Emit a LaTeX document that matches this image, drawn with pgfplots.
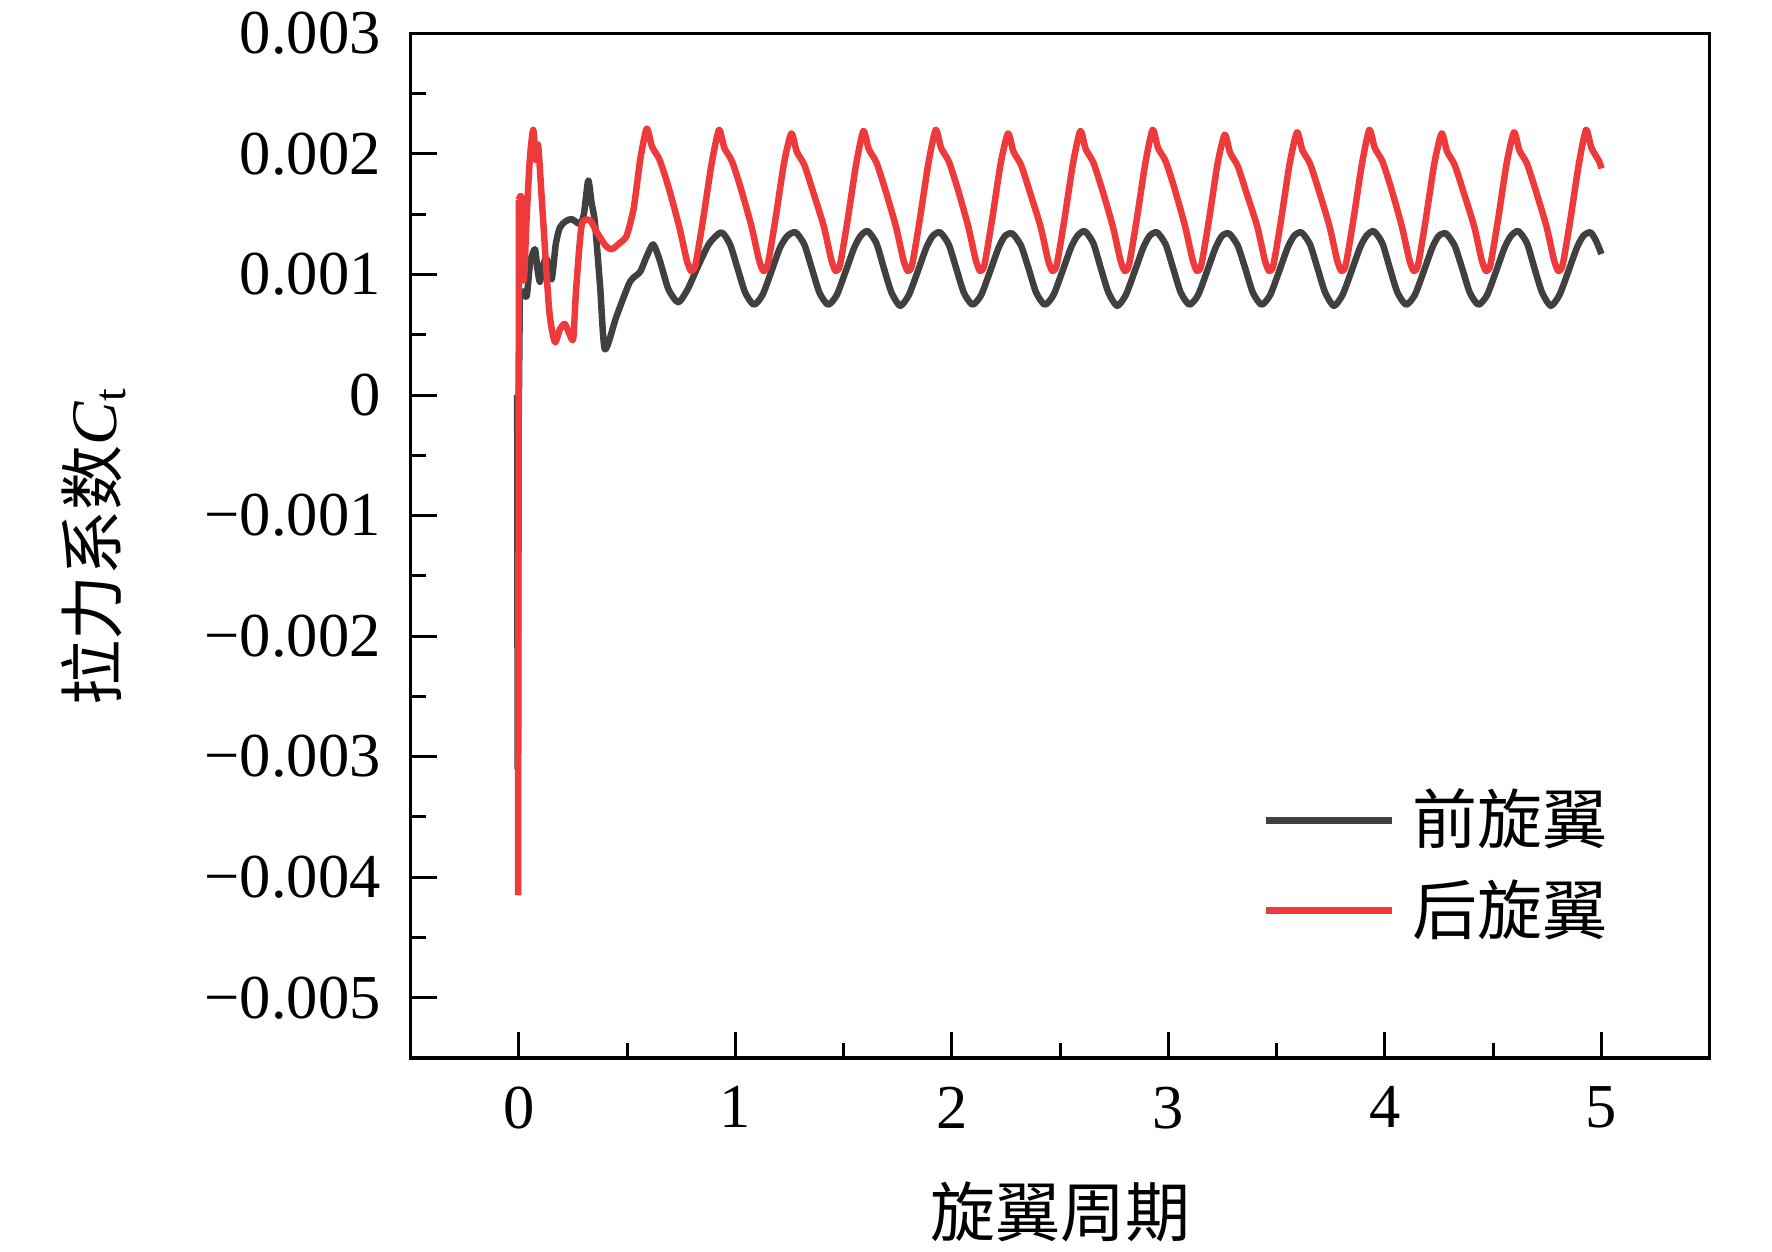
\documentclass[border=0pt]{standalone}
\usepackage{fontspec}
\setmainfont{Liberation Serif}
\newfontfamily\cjk{Noto Sans CJK SC}
\usepackage{pgfplots}
\usepackage{pgfplotstable}
\pgfplotsset{compat=1.18}
\usetikzlibrary{calc}
\definecolor{cblack}{RGB}{64,64,64}
\definecolor{cred}{RGB}{238,58,58}

% y values in units of 0.001
\pgfplotstableread{
x y
-0.008 0.00
-0.006 -3.10
-0.002 -0.40
0.004 0.80
}\frontspike

\pgfplotstableread{
x y
0.004 0.80
0.020 0.86
0.036 0.82
0.052 1.10
0.074 1.21
0.085 1.05
0.097 0.94
0.112 1.08
0.128 1.13
0.151 0.96
0.170 1.25
0.189 1.39
0.215 1.44
0.243 1.46
0.282 1.42
0.300 1.50
0.320 1.78
0.335 1.60
0.351 1.43
0.375 0.90
0.397 0.38
0.450 0.65
0.513 0.94
0.559 1.02
0.590 1.15
0.620 1.25
0.650 1.12
0.690 0.88
0.736 0.77
0.780 0.88
0.830 1.08
0.880 1.26
0.935 1.35
0.975 1.25
1.010 1.05
1.045 0.85
1.085 0.75
1.125 0.83
1.165 1.02
1.205 1.22
1.240 1.32
1.278 1.35
1.318 1.25
1.353 1.05
1.388 0.85
1.428 0.75
1.468 0.83
1.508 1.02
1.548 1.22
1.578 1.32
1.611 1.36
1.651 1.26
1.686 1.05
1.721 0.85
1.761 0.74
1.801 0.83
1.841 1.02
1.881 1.22
1.911 1.32
1.945 1.35
1.985 1.25
2.020 1.05
2.055 0.85
2.095 0.75
2.135 0.83
2.175 1.02
2.215 1.22
2.245 1.32
2.279 1.34
2.319 1.24
2.354 1.05
2.389 0.85
2.429 0.75
2.469 0.83
2.509 1.02
2.549 1.22
2.579 1.32
2.613 1.36
2.653 1.26
2.688 1.05
2.723 0.85
2.763 0.74
2.803 0.83
2.843 1.02
2.883 1.22
2.913 1.32
2.947 1.35
2.987 1.25
3.022 1.05
3.057 0.85
3.097 0.75
3.137 0.83
3.177 1.02
3.217 1.22
3.247 1.32
3.280 1.34
3.320 1.24
3.355 1.05
3.390 0.85
3.430 0.75
3.470 0.83
3.510 1.02
3.550 1.22
3.580 1.32
3.614 1.35
3.654 1.25
3.689 1.05
3.724 0.85
3.764 0.74
3.804 0.83
3.844 1.02
3.884 1.22
3.914 1.32
3.948 1.36
3.988 1.26
4.023 1.05
4.058 0.85
4.098 0.75
4.138 0.83
4.178 1.02
4.218 1.22
4.248 1.32
4.282 1.34
4.322 1.24
4.357 1.05
4.392 0.85
4.432 0.75
4.472 0.83
4.512 1.02
4.552 1.22
4.582 1.32
4.616 1.36
4.656 1.26
4.691 1.05
4.726 0.85
4.766 0.74
4.806 0.83
4.846 1.02
4.886 1.22
4.916 1.32
4.949 1.35
4.975 1.28
5.000 1.17
}\frontrotor

\pgfplotstableread{
x y
-0.004 -4.15
0.000 1.62
}\rearspike

\pgfplotstableread{
x y
0.000 1.62
0.012 1.62
0.022 0.95
0.035 1.45
0.050 1.95
0.066 2.20
0.078 1.95
0.089 2.07
0.110 1.50
0.140 0.70
0.166 0.44
0.190 0.55
0.212 0.59
0.235 0.50
0.251 0.47
0.265 0.90
0.290 1.41
0.328 1.45
0.360 1.35
0.400 1.24
0.428 1.21
0.465 1.26
0.497 1.32
0.530 1.55
0.560 1.95
0.590 2.21
0.615 2.06
0.650 1.95
0.690 1.73
0.740 1.40
0.775 1.12
0.795 1.03
0.815 1.08
0.850 1.45
0.890 1.92
0.924 2.20
0.949 2.05
0.984 1.94
1.024 1.72
1.074 1.40
1.109 1.12
1.129 1.03
1.149 1.08
1.184 1.45
1.224 1.92
1.258 2.17
1.283 2.02
1.318 1.91
1.358 1.69
1.408 1.40
1.443 1.12
1.463 1.03
1.483 1.08
1.518 1.45
1.558 1.92
1.591 2.19
1.616 2.04
1.651 1.93
1.691 1.71
1.741 1.40
1.776 1.12
1.796 1.03
1.816 1.08
1.851 1.45
1.891 1.92
1.925 2.20
1.950 2.05
1.985 1.94
2.025 1.72
2.075 1.40
2.110 1.12
2.130 1.03
2.150 1.08
2.185 1.45
2.225 1.92
2.259 2.17
2.284 2.02
2.319 1.91
2.359 1.69
2.409 1.40
2.444 1.12
2.464 1.03
2.484 1.08
2.519 1.45
2.559 1.92
2.593 2.19
2.618 2.04
2.653 1.93
2.693 1.71
2.743 1.40
2.778 1.12
2.798 1.03
2.818 1.08
2.853 1.45
2.893 1.92
2.927 2.20
2.952 2.05
2.987 1.94
3.027 1.72
3.077 1.40
3.112 1.12
3.132 1.03
3.152 1.08
3.187 1.45
3.227 1.92
3.260 2.16
3.285 2.01
3.320 1.90
3.360 1.68
3.410 1.40
3.445 1.12
3.465 1.03
3.485 1.08
3.520 1.45
3.560 1.92
3.594 2.18
3.619 2.03
3.654 1.92
3.694 1.70
3.744 1.40
3.779 1.12
3.799 1.03
3.819 1.08
3.854 1.45
3.894 1.92
3.928 2.20
3.953 2.05
3.988 1.94
4.028 1.72
4.078 1.40
4.113 1.12
4.133 1.03
4.153 1.08
4.188 1.45
4.228 1.92
4.262 2.17
4.287 2.02
4.322 1.91
4.362 1.69
4.412 1.40
4.447 1.12
4.467 1.03
4.487 1.08
4.522 1.45
4.562 1.92
4.596 2.18
4.621 2.03
4.656 1.92
4.696 1.70
4.746 1.40
4.781 1.12
4.801 1.03
4.821 1.08
4.856 1.45
4.896 1.92
4.929 2.20
4.954 2.05
4.989 1.94
5.000 1.88
}\rearrotor

\begin{document}
\begin{tikzpicture}
\begin{axis}[
  scale only axis,
  width=259.8pt, height=204.9pt,
  xmin=-0.5, xmax=5.5, ymin=-5.5, ymax=3,
  xtick={0,1,2,3,4,5}, xticklabels={0,1,2,3,4,5},
  ytick={-5,-4,-3,-2,-1,0,1,2,3},
  yticklabels={−0.005,−0.004,−0.003,−0.002,−0.001,0,0.001,0.002,0.003},
  minor x tick num=1, minor y tick num=1,
  tick align=inside, xtick pos=left, ytick pos=left,
  major tick length=5.2pt, minor tick length=3pt,
  every tick/.append style={black, line width=0.6pt},
  axis line style={line width=0.7pt},
  ticklabel style={font=\fontsize{12.5}{12.5}\selectfont},
  yticklabel style={xshift=-2.5pt},
  xticklabel style={yshift=-2.2pt},
  xlabel={\cjk 旋翼周期},
  ylabel={{\cjk 拉力系数}\textit{C}\textsubscript{t}},
  label style={font=\fontsize{13}{13}\selectfont},
  xlabel style={at={(axis description cs:0.5,-0.150)}, anchor=center},
  ylabel style={at={(axis description cs:-0.244,0.5)}, anchor=center},
  legend style={at={(axis description cs:0.655,0.188)}, anchor=west,
    draw=none, fill=none, inner sep=0pt, row sep=1.6pt,
    font=\cjk\fontsize{13}{13}\selectfont,
    nodes={inner xsep=3.3pt, inner ysep=2pt}},
  legend cell align=left,
  legend image code/.code={\draw[#1, line width=1.3pt] (0pt,0pt) -- (25.3pt,0pt);},
]
\addplot[cblack, line width=1.3pt, line join=round, forget plot] table[x=x, y=y] {\frontspike};
\addplot[cblack, line width=1.3pt, line join=round, smooth, tension=0.4] table[x=x, y=y] {\frontrotor};
\addlegendentry{前旋翼}
\addplot[cred, line width=1.3pt, line join=round, forget plot] table[x=x, y=y] {\rearspike};
\addplot[cred, line width=1.3pt, line join=round, smooth, tension=0.4] table[x=x, y=y] {\rearrotor};
\addlegendentry{后旋翼}
\coordinate (SW) at (rel axis cs:0,0);
\end{axis}
\pgfresetboundingbox
\path[use as bounding box] ($(SW)+(-82.14pt,-38.8pt)$) rectangle ++(354.4pt,250.4pt);
\end{tikzpicture}
\end{document}
